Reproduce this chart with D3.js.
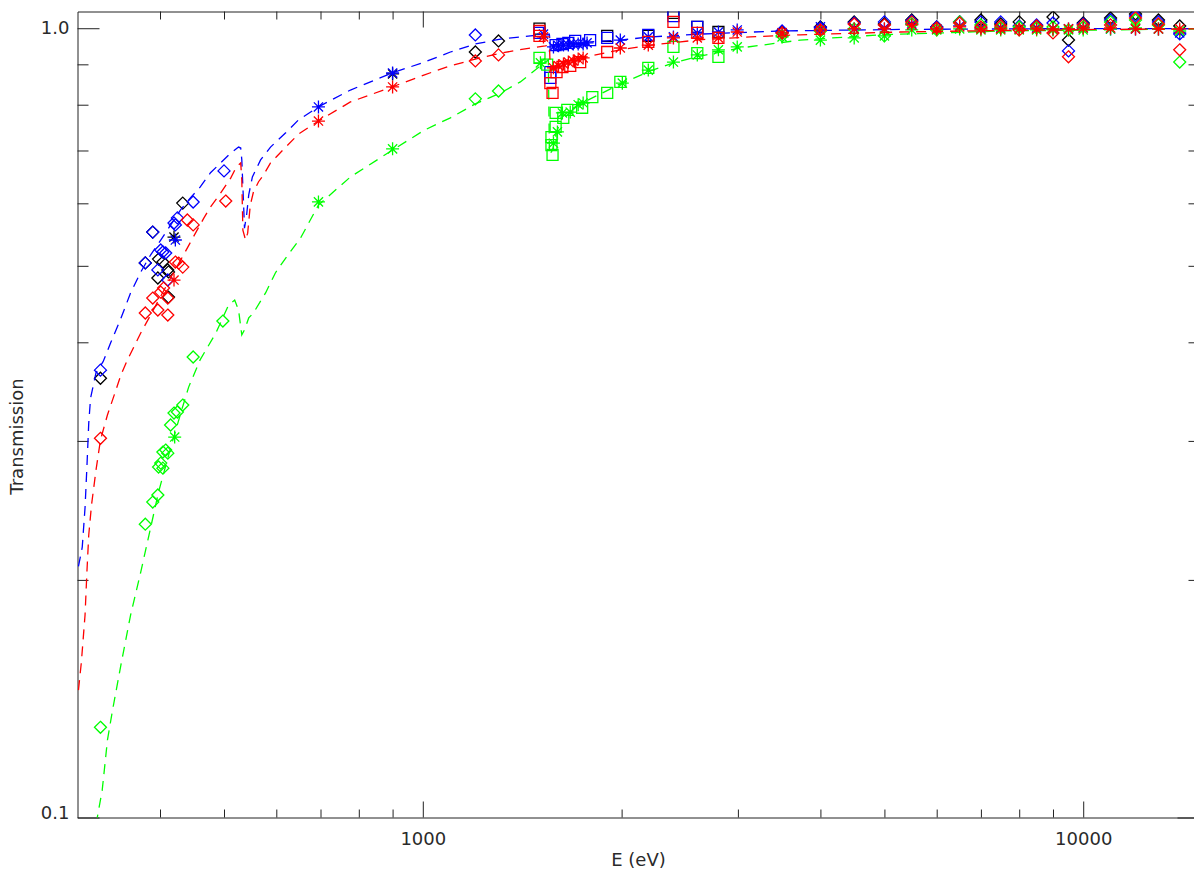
<!DOCTYPE html>
<html><head><meta charset="utf-8">
<script src="https://cdn.jsdelivr.net/npm/d3@7"></script>
<style>body{margin:0;background:#fff}svg{display:block}</style>
</head><body>
<svg id="c" width="1194" height="874"></svg>
<script>
// ---------- axis ticks ----------
const xTickValues = [400,500,600,700,800,900,1000,2000,3000,4000,5000,6000,7000,8000,9000,10000];
const xMajorTicks = [1000,10000];
const yTickValues = [0.1,0.2,0.3,0.4,0.5,0.6,0.7,0.8,0.9,1.0];
const yMajorTicks = [0.1,1.0];
const xTitle = "E (eV)";
const yTitle = "Transmission";

// ---------- model curves [E (eV), transmission] ----------
const blueCurve = [[301,0.208],[305,0.220],[308,0.247],[310,0.278],[312,0.316],[314,0.340],[320,0.366],[328,0.378],[337,0.400],[349,0.429],[361,0.462],[374,0.491],[387,0.516],[401,0.539],[415,0.563],[430,0.589],[445,0.610],[460,0.629],[477,0.656],[494,0.675],[512,0.695],[526,0.707],[530,0.705],[532,0.681],[535,0.606],[537,0.558],[541,0.580],[545,0.615],[552,0.648],[568,0.681],[588,0.707],[620,0.737],[648,0.765],[695,0.795],[777,0.835],[900,0.878],[1006,0.906],[1101,0.933],[1201,0.955],[1311,0.969],[1455,0.978],[1533,0.981],[1555,0.981],[1560,0.952],[1616,0.955],[1792,0.961],[1991,0.966],[2211,0.975],[2630,0.983],[3477,0.992],[5284,0.9965],[8890,0.9985],[15000,0.999]];
const redCurve = [[301,0.145],[304,0.157],[308,0.1805],[310,0.2046],[312,0.228],[315,0.2487],[320,0.2756],[325,0.3008],[333,0.3236],[343,0.348],[349,0.3636],[357,0.3799],[374,0.411],[387,0.433],[401,0.4576],[415,0.4826],[430,0.5087],[445,0.536],[466,0.5747],[477,0.5935],[494,0.618],[512,0.6462],[522,0.6672],[530,0.675],[532,0.6424],[534,0.555],[539,0.539],[543,0.550],[548,0.597],[554,0.620],[564,0.639],[574,0.652],[588,0.675],[620,0.707],[648,0.734],[695,0.763],[777,0.8065],[900,0.843],[1006,0.873],[1101,0.896],[1201,0.914],[1311,0.930],[1455,0.944],[1533,0.950],[1555,0.952],[1560,0.885],[1616,0.904],[1792,0.922],[1991,0.939],[2211,0.952],[2632,0.967],[3133,0.975],[3728,0.981],[5284,0.989],[7506,0.9936],[10634,0.9965],[15000,0.998]];
const greenCurve = [[320,0.098],[327,0.1083],[330,0.1165],[333,0.1253],[339,0.1368],[349,0.156],[361,0.1805],[374,0.2046],[387,0.2326],[398,0.2585],[415,0.2938],[430,0.3254],[442,0.351],[460,0.380],[486,0.411],[508,0.446],[519,0.4524],[526,0.4395],[532,0.4087],[537,0.4148],[545,0.4295],[554,0.4358],[578,0.462],[598,0.4897],[620,0.5115],[653,0.5423],[695,0.597],[777,0.648],[900,0.701],[1006,0.743],[1101,0.770],[1201,0.802],[1311,0.828],[1405,0.855],[1507,0.896],[1549,0.9117],[1555,0.691],[1572,0.7008],[1594,0.739],[1627,0.772],[1672,0.788],[1731,0.802],[1857,0.8254],[1991,0.850],[2211,0.883],[2396,0.904],[2632,0.922],[3026,0.944],[3728,0.966],[4927,0.981],[7506,0.992],[10634,0.995],[15000,0.998]];

// ---------- measurements [E (eV), transmission] ----------
const blackDiamonds = [[325,0.3602],[380,0.5043],[390,0.5517],[398,0.5099],[404,0.5055],[411,0.4941],[412,0.4912],[397,0.4826],[412,0.4564],[433,0.6004],[1201,0.933],[1302,0.9636]];
const blueDiamonds = [[325,0.3688],[380,0.5043],[390,0.5517],[397,0.4941],[401,0.5236],[404,0.5206],[408,0.5190],[411,0.4797],[420,0.5666],[422,0.5634],[425,0.5750],[449,0.6022],[500,0.6595],[1201,0.9806]];
const redDiamonds = [[325,0.3023],[380,0.4357],[390,0.4551],[397,0.4395],[401,0.4631],[405,0.4686],[411,0.4551],[411,0.4331],[422,0.5055],[427,0.5040],[433,0.4981],[440,0.5715],[449,0.5634],[503,0.6040],[1201,0.909],[1302,0.9251]];
const greenDiamonds = [[325,0.1301],[380,0.2353],[390,0.2510],[397,0.2562],[398,0.2780],[401,0.2812],[404,0.2771],[404,0.2904],[408,0.2921],[411,0.2895],[415,0.3143],[420,0.3254],[425,0.3264],[433,0.3331],[449,0.3832],[498,0.4256],[1201,0.8138],[1302,0.8327]];

const blackStars = [[420,0.5438],[900,0.8751]];
const blueStars = [[422,0.5391],[695,0.7948],[900,0.8776],[1523,0.983],[1577,0.947],[1605,0.950],[1633,0.952],[1661,0.952],[1690,0.955],[1719,0.955],[1749,0.955],[1773,0.958],[1991,0.966],[2195,0.975],[2396,0.975],[2604,0.986],[2803,0.989],[2993,0.995]];
const redStars = [[420,0.4797],[695,0.7628],[900,0.8425],[1523,0.975],[1577,0.891],[1605,0.896],[1633,0.901],[1661,0.906],[1690,0.909],[1719,0.914],[1749,0.917],[1991,0.944],[2195,0.952],[2396,0.972],[2604,0.972],[2803,0.972],[2993,0.989]];
const greenStars = [[421,0.3034],[695,0.6025],[900,0.7033],[1507,0.904],[1577,0.715],[1599,0.739],[1627,0.781],[1672,0.783],[1719,0.800],[1749,0.804],[2005,0.852],[2195,0.885],[2396,0.906],[2604,0.925],[2803,0.939],[2993,0.947]];

const blackSquares = [[1502,0.9988],[1902,0.9778],[2195,0.9778],[2396,1.0457],[2604,1.0038],[2803,0.989]];
const blueSquares = [[1502,0.9864],[1560,0.880],[1560,0.865],[1589,0.952],[1627,0.955],[1661,0.958],[1701,0.9636],[1792,0.966],[1902,0.972],[2195,0.981],[2396,1.036],[2604,1.0038]];
const redSquares = [[1502,0.992],[1502,0.978],[1560,0.852],[1572,0.828],[1594,0.880],[1627,0.893],[1672,0.896],[1731,0.906],[1902,0.933],[2195,0.961],[2396,1.0186],[2604,0.9864],[2803,0.972]];
const greenSquares = [[1502,0.917],[1543,0.899],[1566,0.728],[1566,0.711],[1572,0.691],[1589,0.750],[1632,0.770],[1589,0.781],[1655,0.788],[1743,0.793],[1806,0.818],[1902,0.828],[1991,0.855],[2195,0.891],[2396,0.947],[2604,0.930],[2803,0.920]];

// high-energy measurements
const hiE = [3500,4000,4500,5000,5500,6000,6500,7000,7500,8000,8500,9000,9500,10000,11000,12000,13000,14000];
const hiBlackDiamond = [0.989,1.0038,1.0186,1.0126,1.0245,1.0038,1.0186,1.0245,1.0126,1.0186,1.0067,1.0335,0.966,1.0156,1.0305,1.0426,1.0245,1.0067];
const hiBlueDiamond  = [0.992,1.0009,1.0156,1.0186,1.0215,1.0038,1.0186,1.0186,1.0186,1.0067,1.0097,1.0156,0.936,1.0126,1.0245,1.0365,1.0186,0.9835];
const hiRedDiamond   = [0.9864,0.995,1.0126,1.0097,1.0186,1.0009,1.0156,1.0038,1.0067,0.995,1.0067,0.9864,0.920,1.0097,1.0097,1.0305,1.0126,0.939];
const hiGreenDiamond = [0.978,0.992,0.998,0.978,1.0126,0.995,1.0186,1.0097,1.0009,1.0038,1.0009,1.0038,0.995,1.0038,1.0186,1.0245,1.0097,0.906];
const hiBlueStar  = [0.9864,1.0038,0.998,0.998,1.0126,0.998,1.0067,1.0009,1.0009,0.998,1.0009,0.998,0.998,1.0009,0.998,0.998,0.998,0.9864];
const hiRedStar   = [0.9864,0.995,0.998,0.998,1.0097,0.998,1.0038,0.998,0.998,0.998,0.998,0.998,0.998,1.0009,1.0009,0.998,0.998,0.998];
const hiGreenStar = [0.975,0.966,0.972,0.978,0.995,0.995,0.998,0.995,0.995,0.995,0.995,0.995,0.995,0.995,0.998,1.0009,0.998,0.992];

// ---------- drawing ----------
const L = 77.5, R = 1199.5, T = 11.5, B = 817.5;
const svg = d3.select('#c');
const x = d3.scaleLog().domain([300,15000]).range([L,R]);
const y = d3.scaleLog().domain([0.1,1.05]).range([B,T]);
const font = "'DejaVu Sans', sans-serif";
const axisColor = '#222';

svg.append('defs').append('clipPath').attr('id','clip')
  .append('rect').attr('x',L).attr('y',T).attr('width',R-L).attr('height',B-T);

function styleAxis(g, majors, isX, len){
  g.select('.domain').attr('stroke',axisColor).attr('stroke-width',1);
  g.selectAll('.tick line').attr('stroke',axisColor).attr('stroke-width',1)
    .each(function(d){
      const major = majors.some(m=>Math.abs(m-d)/m<1e-6);
      const l = major ? len : len/2;
      const sel = d3.select(this);
      if(isX) sel.attr('y2', sel.attr('y2')<0 ? -l : l);
      else sel.attr('x2', sel.attr('x2')<0 ? -l : l);
    });
  g.selectAll('.tick text').attr('fill','#2a2a2a').style('font-family',font).style('font-size','18px');
}
const fmtX = d => xMajorTicks.includes(d) ? String(d) : '';
const fmtY = d => yMajorTicks.some(m=>Math.abs(m-d)<1e-9) ? d.toFixed(1) : '';

const gb = svg.append('g').attr('transform',`translate(0,${B})`)
  .call(d3.axisBottom(x).tickValues(xTickValues).tickFormat(fmtX).tickSizeInner(-16).tickSizeOuter(0).tickPadding(15));
styleAxis(gb, xMajorTicks, true, 16);
const gt = svg.append('g').attr('transform',`translate(0,${T})`)
  .call(d3.axisTop(x).tickValues(xTickValues).tickFormat('').tickSizeInner(-16).tickSizeOuter(0));
styleAxis(gt, xMajorTicks, true, 16);
const gl = svg.append('g').attr('transform',`translate(${L},0)`)
  .call(d3.axisLeft(y).tickValues(yTickValues).tickFormat(fmtY).tickSizeInner(-22).tickSizeOuter(0).tickPadding(8));
styleAxis(gl, yMajorTicks, false, 22);
gl.selectAll('.tick text').filter(d=>Math.abs(d-0.1)<1e-9).attr('dy','0.05em');
const gr = svg.append('g').attr('transform',`translate(${R},0)`)
  .call(d3.axisRight(y).tickValues(yTickValues).tickFormat('').tickSizeInner(-22).tickSizeOuter(0));
styleAxis(gr, yMajorTicks, false, 22);

svg.append('text').attr('x',(L+R)/2).attr('y',866).attr('text-anchor','middle')
  .style('font-family',font).style('font-size','18px').attr('fill','#2a2a2a').text(xTitle);
svg.append('text').attr('transform',`translate(23,${(T+B)/2 + 22}) rotate(-90)`).attr('text-anchor','middle')
  .style('font-family',font).style('font-size','18px').attr('fill','#2a2a2a').text(yTitle);

const plot = svg.append('g').attr('clip-path','url(#clip)');
const line = d3.line().x(d=>x(d[0])).y(d=>y(d[1]));
function curve(data,color){
  plot.append('path').datum(data).attr('d',line).attr('fill','none')
    .attr('stroke',color).attr('stroke-width',1.3).attr('stroke-dasharray','10,7');
}
const shapes = {
  diamond: 'M0,-6L6,0L0,6L-6,0Z',
  square: 'M-5.5,-5.5H5.5V5.5H-5.5Z',
  star: 'M-6.5,0H6.5M0,-6.5V6.5M-4.6,-4.6L4.6,4.6M-4.6,4.6L4.6,-4.6'
};
function marks(data,shape,color){
  plot.append('g').selectAll('path').data(data).enter().append('path')
    .attr('d',shapes[shape])
    .attr('transform',d=>`translate(${x(d[0])},${y(d[1])})`)
    .attr('fill','none').attr('stroke',color).attr('stroke-width',1.3);
}
const zipHi = arr => hiE.map((e,i)=>[e,arr[i]]);

// black
marks(blackDiamonds.concat(zipHi(hiBlackDiamond)),'diamond','#000');
marks(blackStars,'star','#000');
marks(blackSquares,'square','#000');
// blue
curve(blueCurve,'#0000ff');
marks(blueDiamonds.concat(zipHi(hiBlueDiamond)),'diamond','#0000ff');
marks(blueStars.concat(zipHi(hiBlueStar)),'star','#0000ff');
marks(blueSquares,'square','#0000ff');
// green
curve(greenCurve,'#00ff00');
marks(greenDiamonds.concat(zipHi(hiGreenDiamond)),'diamond','#00ff00');
marks(greenStars.concat(zipHi(hiGreenStar)),'star','#00ff00');
marks(greenSquares,'square','#00ff00');
// red
curve(redCurve,'#ff0000');
marks(redDiamonds.concat(zipHi(hiRedDiamond)),'diamond','#ff0000');
marks(redStars.concat(zipHi(hiRedStar)),'star','#ff0000');
marks(redSquares,'square','#ff0000');
</script>
</body></html>
